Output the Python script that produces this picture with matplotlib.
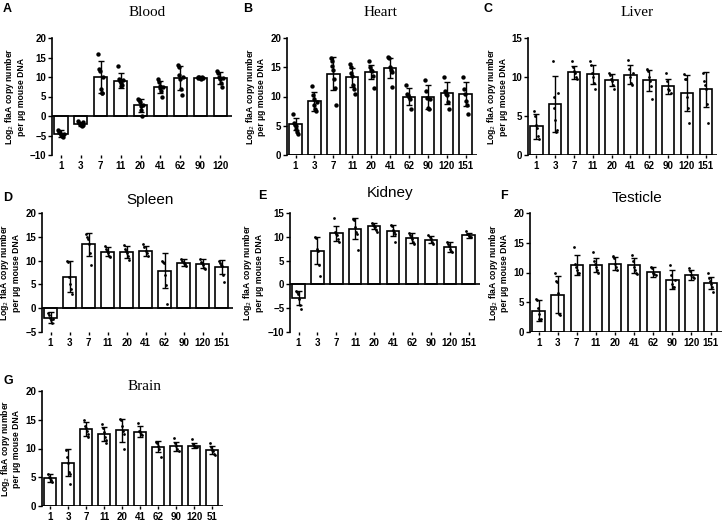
import matplotlib
matplotlib.use("Agg")
import matplotlib.pyplot as plt
import numpy as np

W, H = 728, 523

# ---- data ----
days_a = ["1", "3", "7", "11", "20", "41", "62", "90", "120"]
days = ["1", "3", "7", "11", "20", "41", "62", "90", "120", "151"]
days_g = ["1", "3", "7", "11", "20", "41", "62", "90", "120", "51"]

blood_mean = [-4.5, -2.0, 10.0, 9.1, 2.7, 7.5, 9.7, 9.8, 9.7]
blood_sd = [0.9, 0.5, 4.0, 1.9, 1.7, 1.6, 3.0, 0.3, 1.6]
blood_pts = [
    [-3.5, -4.0, -4.3, -4.8, -5.0, -5.3, -4.5],
    [-1.3, -1.8, -2.0, -2.2, -2.5, -1.6, -2.3],
    [16.0, 12.0, 11.5, 7.0, 6.0, 5.8, 10.0],
    [12.8, 9.5, 9.0, 8.5, 7.8, 8.0, 9.2],
    [4.3, 4.0, 3.5, 2.5, 1.5, 0.0, 2.8],
    [9.5, 8.8, 7.8, 7.2, 6.5, 5.0, 7.5],
    [13.0, 12.5, 10.5, 9.5, 7.0, 5.3, 10.0],
    [10.0, 9.8, 9.9, 9.7, 9.6, 10.1, 9.8],
    [11.5, 11.0, 10.0, 9.5, 8.5, 7.5, 9.8],
]

heart_mean = [5.3, 9.2, 13.9, 13.3, 14.2, 14.9, 10.0, 9.9, 10.6, 10.4]
heart_sd = [1.1, 1.6, 2.8, 1.6, 1.2, 1.7, 1.4, 2.1, 1.8, 2.1]
heart_pts = [
    [7.0, 5.5, 5.2, 5.0, 4.5, 4.0, 3.6],
    [11.8, 10.2, 9.5, 8.5, 7.8, 7.5, 9.0],
    [16.5, 16.0, 15.2, 14.5, 13.0, 11.5, 8.6],
    [15.5, 15.0, 14.0, 13.5, 12.0, 11.2, 10.5],
    [16.0, 15.0, 14.5, 14.3, 13.5, 11.5],
    [16.7, 16.5, 15.0, 14.5, 14.2, 11.7],
    [12.0, 10.5, 10.2, 10.0, 9.5, 7.8],
    [12.8, 11.0, 9.7, 8.0, 7.8, 9.5],
    [13.3, 11.0, 10.5, 10.2, 9.0, 7.8],
    [13.3, 11.3, 10.5, 9.3, 8.5, 7.0],
]

liver_mean = [3.7, 6.5, 10.6, 10.35, 9.6, 10.3, 9.6, 8.8, 7.9, 8.4]
liver_sd = [1.6, 3.6, 0.85, 1.2, 0.75, 1.2, 1.35, 1.0, 2.3, 2.2]
liver_pts = [
    [5.6, 5.0, 3.8, 3.5, 2.5, 2.0],
    [12.1, 7.5, 6.0, 4.5, 3.0, 3.2, 8.0],
    [12.0, 11.3, 10.8, 10.5, 10.0, 9.8],
    [12.1, 11.5, 10.5, 10.0, 9.2, 8.5],
    [10.5, 10.3, 9.8, 9.5, 9.0, 8.5],
    [12.2, 11.0, 10.0, 9.2, 9.0, 10.5],
    [11.0, 10.8, 10.0, 9.5, 8.8, 7.2],
    [10.5, 9.5, 8.5, 8.3, 8.0],
    [10.4, 9.8, 9.7, 7.5, 6.0, 4.1],
    [10.5, 9.5, 9.0, 8.5, 6.5, 4.1],
]

spleen_mean = [-2.0, 6.6, 13.4, 11.9, 11.8, 12.0, 7.9, 9.6, 9.3, 8.6]
spleen_sd = [1.1, 3.3, 2.4, 1.0, 1.35, 1.1, 3.7, 0.7, 0.95, 1.45]
spleen_pts = [
    [-1.0, -1.5, -2.0, -2.5, -3.2, -2.2],
    [10.0, 9.8, 6.5, 5.0, 4.0, 3.0],
    [15.5, 15.0, 14.5, 13.5, 11.5, 9.0],
    [13.0, 12.5, 12.0, 11.5, 11.0, 10.8],
    [13.3, 12.5, 12.0, 11.5, 11.0, 10.2],
    [13.5, 12.8, 12.0, 11.5, 11.0],
    [10.0, 9.8, 9.5, 7.0, 4.8, 0.8],
    [10.3, 10.0, 9.5, 9.3, 8.8],
    [10.3, 9.8, 9.5, 9.0, 8.5, 8.2],
    [10.0, 9.5, 9.0, 8.8, 7.0, 5.6],
]

kidney_mean = [-2.8, 7.1, 10.7, 11.7, 12.2, 11.3, 9.8, 9.4, 7.9, 10.3]
kidney_sd = [1.45, 2.85, 1.6, 2.15, 0.65, 1.15, 1.05, 0.8, 1.0, 0.45]
kidney_pts = [
    [-1.3, -1.5, -2.0, -3.0, -4.3, -5.2],
    [10.0, 9.8, 7.5, 7.0, 4.0, 1.7],
    [14.0, 11.0, 10.5, 10.3, 9.5, 9.0],
    [13.8, 13.5, 12.0, 11.0, 10.5, 7.2],
    [12.8, 12.5, 12.3, 12.0, 11.5, 11.0],
    [12.5, 12.2, 11.5, 11.0, 10.5, 9.0],
    [10.8, 10.3, 10.0, 9.5, 9.0, 8.5],
    [10.3, 10.0, 9.5, 9.0, 8.5],
    [9.0, 8.5, 8.0, 7.5, 7.0, 6.8],
    [11.3, 10.5, 10.2, 10.0, 9.9],
]

testicle_mean = [3.6, 6.3, 11.2, 11.3, 11.5, 11.2, 10.1, 8.8, 9.6, 8.2]
testicle_sd = [1.75, 3.15, 1.7, 1.2, 1.05, 1.2, 0.8, 1.6, 0.8, 1.05]
testicle_pts = [
    [5.5, 5.3, 4.0, 3.0, 2.2, 2.0, 2.2],
    [10.0, 8.6, 8.4, 6.5, 3.0, 2.9],
    [14.3, 11.5, 11.0, 10.5, 10.0, 10.0],
    [13.5, 12.0, 11.5, 11.0, 10.5, 10.0],
    [12.8, 12.5, 11.5, 11.0, 10.5],
    [13.0, 12.0, 11.0, 10.5, 10.0, 9.8],
    [11.0, 10.8, 10.0, 9.8, 9.5],
    [11.3, 9.5, 8.0, 7.5, 7.5, 8.8],
    [10.7, 10.2, 9.5, 9.3, 9.0],
    [9.9, 9.0, 8.5, 8.0, 7.5, 6.7],
]

brain_mean = [4.8, 7.5, 13.4, 12.5, 13.2, 12.9, 10.3, 10.4, 10.5, 9.7]
brain_sd = [0.7, 2.35, 1.15, 1.25, 2.0, 0.95, 0.95, 0.8, 0.4, 0.65]
brain_pts = [
    [5.5, 5.0, 4.8, 4.5, 4.2],
    [9.8, 8.5, 7.5, 6.0, 5.5, 3.8],
    [14.9, 14.0, 13.5, 13.0, 12.5, 12.0],
    [14.2, 13.5, 12.8, 12.0, 11.5, 11.0],
    [15.2, 15.0, 14.0, 13.0, 12.5, 10.0],
    [14.5, 13.0, 12.8, 12.5, 12.3],
    [11.2, 11.0, 10.5, 10.0, 8.5],
    [11.8, 11.0, 10.5, 10.0, 9.5],
    [11.6, 10.8, 10.5, 10.3, 10.2],
    [10.9, 10.2, 9.8, 9.5, 9.0, 8.8],
]

SANS = "Liberation Sans"
SERIF = "Liberation Serif"
YLABEL = "Log$_2$ flaA copy number\nper \u00b5g mouse DNA"


def panel(box, letter, letter_xy, title, title_xy, title_font,
          cats, means, sds, pts, ylim, yticks, dot):
    # box = (left, top, right, bottom) in pixels
    l, t, r, b = box
    ax = fig.add_axes([l / W, 1 - b / H, (r - l) / W, (b - t) / H])
    x = np.arange(len(cats))
    ax.bar(x, means, width=0.66, color="white", edgecolor="black",
           linewidth=1.2, zorder=2)
    ax.errorbar(x, means, yerr=sds, fmt="none", ecolor="black",
                elinewidth=1.0, capsize=2.5, capthick=1.0, zorder=4)
    for i, vals in enumerate(pts):
        off = np.linspace(-0.13, 0.13, len(vals))
        ax.scatter(x[i] + off, vals, s=dot, color="black", zorder=5,
                   linewidths=0)

    ax.set_xlim(-0.45, len(cats) - 0.4)
    ax.set_ylim(*ylim)
    ax.set_yticks(yticks)
    ax.set_xticks(x)
    ax.set_xticklabels(cats)
    for s in ["top", "right", "bottom"]:
        ax.spines[s].set_visible(False)
    ax.spines["left"].set_linewidth(1.2)
    ax.axhline(0, color="black", lw=1.2, zorder=3)
    ax.tick_params(axis="y", length=3, width=1.0, pad=1, labelsize=7)
    ax.tick_params(axis="x", length=2.5, width=1.0, pad=1.5, labelsize=7)
    for lab in ax.get_xticklabels() + ax.get_yticklabels():
        lab.set_fontfamily(SANS)
        lab.set_fontweight("bold")
    ax.set_ylabel(YLABEL, fontsize=6.2, fontfamily=SANS, fontweight="bold",
                  labelpad=3, linespacing=1.1)

    fig.text(letter_xy[0] / W, 1 - letter_xy[1] / H, letter, fontsize=9,
             fontweight="bold", fontfamily=SANS, ha="left", va="center")
    fig.text(title_xy[0] / W, 1 - title_xy[1] / H, title, fontsize=11,
             fontfamily=title_font, ha="center", va="center")
    return ax


fig = plt.figure(figsize=(W / 100, H / 100), dpi=100)

panel((52, 38, 232, 155), "A", (3, 9), "Blood", (147, 13), SERIF,
      days_a, blood_mean, blood_sd, blood_pts, (-10, 20),
      [-10, -5, 0, 5, 10, 15, 20], 10)
panel((287, 38, 477, 155), "B", (243, 9), "Heart", (380, 13), SERIF,
      days, heart_mean, heart_sd, heart_pts, (0, 20),
      [0, 5, 10, 15, 20], 10)
panel((528, 38, 717, 155), "C", (483, 9), "Liver", (637, 13), SERIF,
      days, liver_mean, liver_sd, liver_pts, (0, 15),
      [0, 5, 10, 15], 4)
panel((42, 213, 233, 332), "D", (3, 198), "Spleen", (150, 200), SANS,
      days, spleen_mean, spleen_sd, spleen_pts, (-5, 20),
      [-5, 0, 5, 10, 15, 20], 4)
panel((290, 213, 480, 332), "E", (258, 196), "Kidney", (390, 193), SANS,
      days, kidney_mean, kidney_sd, kidney_pts, (-10, 15),
      [-10, -5, 0, 5, 10, 15], 4)
panel((530, 213, 722, 332), "F", (500, 196), "Testicle", (637, 198), SANS,
      days, testicle_mean, testicle_sd, testicle_pts, (0, 20),
      [0, 5, 10, 15, 20], 4)
panel((42, 391, 223, 506), "G", (3, 381), "Brain", (145, 387), SERIF,
      days_g, brain_mean, brain_sd, brain_pts, (0, 20),
      [0, 5, 10, 15, 20], 4)

fig.savefig("out.png", dpi=100)
